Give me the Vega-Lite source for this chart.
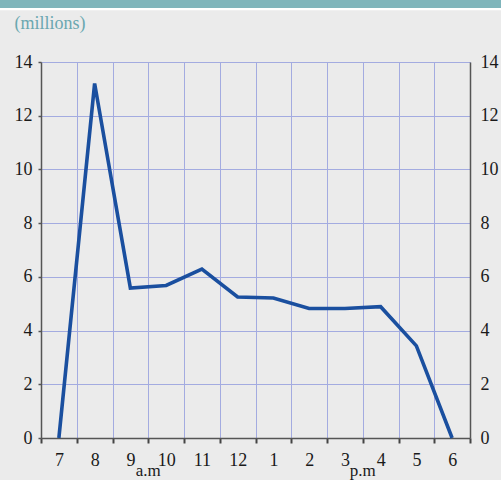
{
  "$schema": "https://vega.github.io/schema/vega-lite/v6.json",
  "width": 429,
  "height": 376,
  "autosize": "none",
  "padding": {"left": 41, "top": 62, "right": 31, "bottom": 42},
  "background": "#ebebeb",
  "config": {
    "view": {"stroke": null},
    "font": "Times New Roman, serif"
  },
  "datasets": {
    "passengers": [
      {"hour": 7, "value": 0},
      {"hour": 8, "value": 13.2},
      {"hour": 9, "value": 5.58},
      {"hour": 10, "value": 5.68},
      {"hour": 11, "value": 6.29},
      {"hour": 12, "value": 5.25},
      {"hour": 13, "value": 5.21},
      {"hour": 14, "value": 4.82},
      {"hour": 15, "value": 4.82},
      {"hour": 16, "value": 4.89},
      {"hour": 17, "value": 3.43},
      {"hour": 18, "value": 0}
    ],
    "periods": [
      {"hour": 9.5, "label": "a.m"},
      {"hour": 15.5, "label": "p.m"}
    ]
  },
  "layer": [
    {
      "data": {"values": [{"band": "top"}]},
      "mark": {"type": "rect", "fill": "#ffffff", "clip": false},
      "encoding": {
        "x": {"datum": 5.3, "type": "quantitative", "scale": {"domain": [6.5, 18.5], "nice": false, "zero": false}, "axis": null},
        "x2": {"datum": 19.5},
        "y": {"datum": 16.4, "type": "quantitative", "scale": {"domain": [0, 14], "nice": false}, "axis": null},
        "y2": {"datum": 15.93}
      }
    },
    {
      "data": {"values": [{"band": "top"}]},
      "mark": {"type": "rect", "fill": "#7fb5bb", "clip": false},
      "encoding": {
        "x": {"datum": 5.3, "type": "quantitative", "scale": {"domain": [6.5, 18.5], "nice": false, "zero": false}, "axis": null},
        "x2": {"datum": 19.5},
        "y": {"datum": 16.4, "type": "quantitative", "scale": {"domain": [0, 14], "nice": false}, "axis": null},
        "y2": {"datum": 16.01}
      }
    },
    {
      "data": {"name": "passengers"},
      "mark": {"type": "line", "color": "#1a4f9f", "strokeWidth": 3.6, "strokeJoin": "miter"},
      "encoding": {
        "x": {
          "field": "hour", "type": "quantitative",
          "scale": {"domain": [6.5, 18.5], "nice": false, "zero": false},
          "axis": {
            "orient": "bottom",
            "values": [7, 8, 9, 10, 11, 12, 13, 14, 15, 16, 17, 18],
            "labelExpr": "datum.value > 12 ? datum.value - 12 : datum.value",
            "grid": false, "ticks": false, "domain": false,
            "labelFont": "Times New Roman, serif",
            "labelFontSize": 18, "labelColor": "#1a1a1a", "labelPadding": 13,
            "title": null
          }
        },
        "y": {
          "field": "value", "type": "quantitative",
          "scale": {"domain": [0, 14], "nice": false},
          "axis": {
            "orient": "left",
            "values": [0, 2, 4, 6, 8, 10, 12, 14],
            "grid": true, "gridColor": "#a3abe0", "gridWidth": 1, "gridOpacity": 1,
            "domainColor": "#555555", "domainWidth": 1.5,
            "tickColor": "#555555", "tickSize": 3, "tickWidth": 1.5,
            "labelFont": "Times New Roman, serif",
            "labelFontSize": 18, "labelColor": "#1a1a1a", "labelPadding": 6,
            "title": "(millions)",
            "titleFont": "Times New Roman, serif",
            "titleAngle": 0, "titleAlign": "left", "titleBaseline": "alphabetic",
            "titleX": -27, "titleY": -34,
            "titleFontSize": 18, "titleFontWeight": "normal",
            "titleColor": "#6aa7b0"
          }
        }
      }
    },
    {
      "data": {"name": "passengers"},
      "mark": {"type": "line", "opacity": 0},
      "encoding": {
        "x": {
          "field": "hour", "type": "quantitative",
          "scale": {"domain": [6.5, 18.5], "nice": false, "zero": false},
          "axis": {
            "orient": "bottom",
            "values": [6.5, 7.5, 8.5, 9.5, 10.5, 11.5, 12.5, 13.5, 14.5, 15.5, 16.5, 17.5, 18.5],
            "labels": false,
            "grid": true, "gridColor": "#a3abe0", "gridWidth": 1, "gridOpacity": 1,
            "domainColor": "#555555", "domainWidth": 1.5,
            "tickColor": "#444444", "tickSize": 5, "tickWidth": 2,
            "title": null
          }
        },
        "y": {
          "field": "value", "type": "quantitative",
          "scale": {"domain": [0, 14], "nice": false},
          "axis": {
            "orient": "right",
            "values": [0, 2, 4, 6, 8, 10, 12, 14],
            "grid": false,
            "domainColor": "#555555", "domainWidth": 1.5,
            "ticks": false,
            "labelFont": "Times New Roman, serif",
            "labelFontSize": 18, "labelColor": "#1a1a1a", "labelPadding": 10,
            "title": null
          }
        }
      }
    },
    {
      "data": {"name": "periods"},
      "mark": {"type": "text", "fontSize": 17, "font": "Times New Roman, serif", "color": "#1a1a1a", "baseline": "middle", "dy": 33, "clip": false},
      "encoding": {
        "x": {"field": "hour", "type": "quantitative", "scale": {"domain": [6.5, 18.5], "nice": false, "zero": false}, "axis": null},
        "y": {"datum": 0, "type": "quantitative", "scale": {"domain": [0, 14], "nice": false}, "axis": null},
        "text": {"field": "label"}
      }
    }
  ],
  "resolve": {"axis": {"x": "independent", "y": "independent"}}
}
